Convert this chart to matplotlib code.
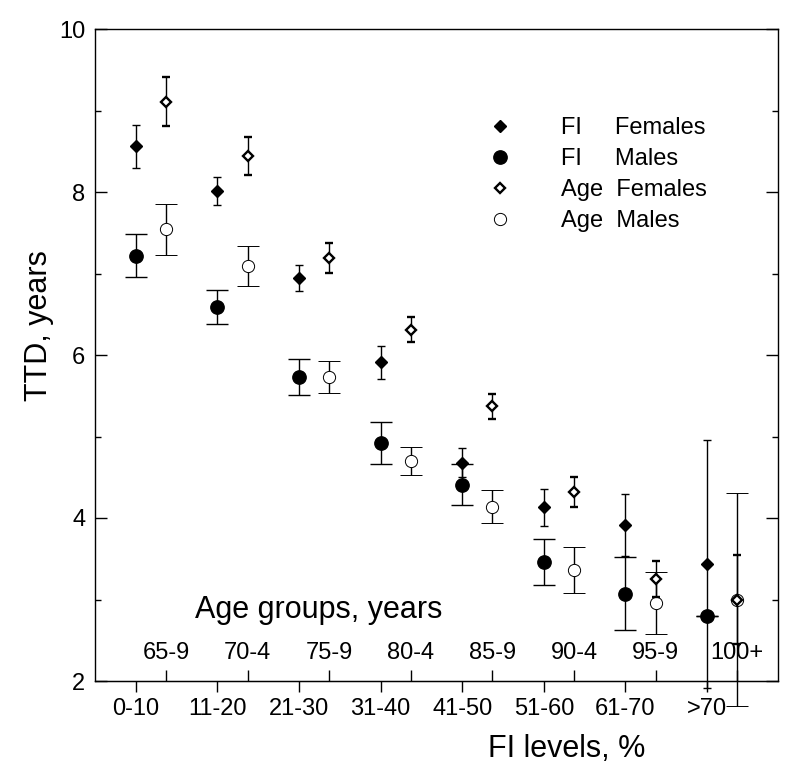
import numpy as np
import matplotlib
matplotlib.use("Agg")
from matplotlib import pyplot as plt

plt.rcParams['font.family'] = ['Liberation Sans', 'DejaVu Sans']

fi_groups = ['0-10', '11-20', '21-30', '31-40', '41-50', '51-60', '61-70', '>70']
age_groups = ['65-9', '70-4', '75-9', '80-4', '85-9', '90-4', '95-9', '100+']

fi_fem = [8.56, 8.01, 6.94, 5.91, 4.68, 4.13, 3.91, 3.44]
fi_fem_err = [0.26, 0.17, 0.16, 0.20, 0.18, 0.23, 0.38, 1.52]
fi_male = [7.22, 6.59, 5.73, 4.92, 4.41, 3.46, 3.07, 2.80]
fi_male_err = [0.26, 0.21, 0.22, 0.26, 0.25, 0.28, 0.45, 0.0]
age_fem = [9.11, 8.44, 7.19, 6.31, 5.37, 4.32, 3.25, 3.00]
age_fem_err = [0.30, 0.23, 0.18, 0.155, 0.15, 0.18, 0.22, 0.55]
age_male = [7.54, 7.09, 5.73, 4.70, 4.14, 3.36, 2.96, 3.00]
age_male_err = [0.31, 0.245, 0.20, 0.175, 0.205, 0.28, 0.38, 1.31]

labels = ['FI     Females', 'FI     Males', 'Age  Females', 'Age  Males']

fi_x = np.arange(len(fi_groups))
age_x = fi_x + 0.37

fig = plt.figure(figsize=(8, 7.78), dpi=100)
ax = fig.add_axes([95/800, 97/778, 683/800, 652/778])

eb = dict(ecolor='black', elinewidth=1.0, capthick=1.0, linestyle='none')
c1 = ax.errorbar(fi_x, fi_fem, yerr=fi_fem_err, marker='D', ms=6.0, mfc='black', mec='black',
                 capsize=2.9, zorder=4, **eb)
c2 = ax.errorbar(fi_x, fi_male, yerr=fi_male_err, marker='o', ms=9.6, mfc='black', mec='black',
                 capsize=7.9, zorder=3, **eb)
c3 = ax.errorbar(age_x, age_fem, yerr=age_fem_err, marker='D', ms=5.4, mfc='white', mec='black',
                 mew=1.7, capsize=2.9, zorder=4, **eb)
c4 = ax.errorbar(age_x, age_male, yerr=age_male_err, marker='o', ms=8.8, mfc='white', mec='black',
                 mew=0.7, capsize=7.9, zorder=3, **eb)
for c in (c1, c2, c3, c4):
    for art in c.get_children():
        art.set_clip_on(False)

ax.set_xlim(-0.5, 7.87)
ax.set_ylim(2, 10)
ax.set_yticks([2, 4, 6, 8, 10])
ax.set_yticks([3, 5, 7, 9], minor=True)
ax.set_xticks(fi_x, fi_groups)
ax.tick_params(axis='y', which='both', direction='in', right=True, labelsize=17, pad=7, width=1)
ax.tick_params(axis='y', which='major', length=8.6)
ax.tick_params(axis='y', which='minor', length=4.5)
ax.tick_params(axis='x', direction='out', length=8, pad=4, labelsize=17, width=1, top=False)

sec = ax.secondary_xaxis('bottom')
sec.set_xticks(age_x, age_groups)
sec.tick_params(direction='in', length=8, pad=-28, labelsize=17, width=1)

for s in ax.spines.values():
    s.set_linewidth(1.0)

ax.set_ylabel('TTD, years', fontsize=22)
ax.yaxis.set_label_coords(-0.06, 0.545)
ax.set_xlabel('FI levels, %', fontsize=22, x=0.69, labelpad=10)
ax.text(0.328, 0.109, 'Age groups, years', transform=ax.transAxes, ha='center', va='center',
        fontsize=22)

ax.legend([c1[0], c2[0], c3[0], c4[0]], labels, loc='upper left',
          bbox_to_anchor=(488/800, 1 - 117/778), bbox_transform=fig.transFigure,
          frameon=False, fontsize=17, handlelength=1, handletextpad=2.1,
          labelspacing=0.38, borderpad=0, borderaxespad=0)

plt.savefig('out.png', dpi=100)
